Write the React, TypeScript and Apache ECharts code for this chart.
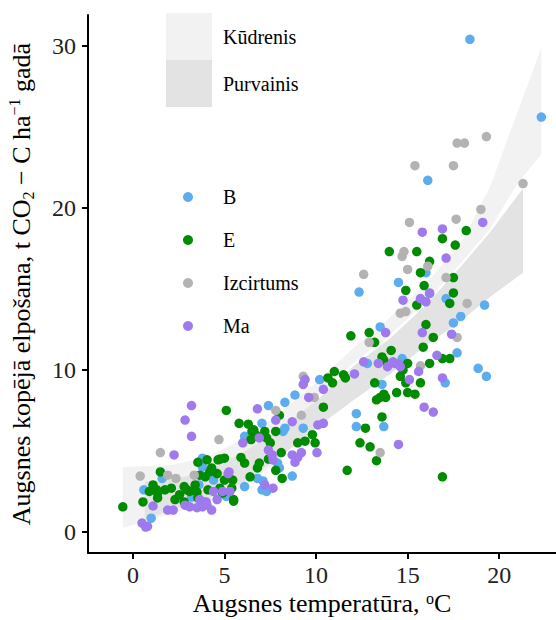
import React, { useEffect, useRef } from 'react';
import * as echarts from 'echarts';

// ---------- DATA ----------
const xTicks = [0, 5, 10, 15, 20];
const yTicks = [0, 10, 20, 30];

const bandNames = ['Kūdrenis', 'Purvainis'];
const groupNames = ['B', 'E', 'Izcirtums', 'Ma'];

// Kūdrenis confidence band (x, lower, upper)
const kudrenisX = [-0.55, 2, 4, 6, 8, 10, 12, 14, 16, 18, 19.5, 21, 22.3];
const kudrenisLow = [0.25, 1.1, 1.8, 2.8, 4.4, 8.3, 10.4, 12.1, 14.2, 16.7, 18.7, 21.5, 23.3];
const kudrenisHigh = [4.0, 4.1, 4.6, 5.7, 7.3, 9.2, 11.3, 13.2, 15.3, 18.0, 21.3, 25.9, 29.9];

// Purvainis confidence band (x, lower, upper)
const purvainisX = [0.65, 2, 4, 6, 8, 10, 12, 14, 16, 18, 19.5, 21.3];
const purvainisLow = [0.75, 1.3, 2.0, 3.0, 4.6, 6.4, 8.1, 9.7, 11.5, 13.1, 14.5, 16.0];
const purvainisHigh = [3.1, 3.2, 3.7, 4.9, 6.3, 8.1, 10.2, 11.9, 14.0, 16.5, 18.5, 21.2];

const pointsB: number[][] = [
  [18.4, 30.4], [22.3, 25.6], [16.1, 21.7], [16.0, 16.0], [14.5, 15.4], [12.35, 14.8], [17.1, 14.4],
  [19.2, 14.0], [16.2, 14.7], [17.9, 13.3], [17.5, 12.9], [17.7, 11.05], [18.85, 10.1], [19.3, 9.6],
  [17.05, 9.2], [13.6, 9.1], [13.5, 12.65], [14.7, 10.7], [12.8, 10.4], [12.2, 7.3], [12.2, 6.5],
  [13.7, 6.5], [10.2, 9.4], [9.3, 6.4], [8.85, 8.45], [8.3, 8.0], [7.4, 7.8], [7.05, 6.7], [8.3, 6.4],
  [8.2, 6.2], [6.1, 5.9], [7.9, 4.25], [8.0, 3.95], [8.7, 3.45], [6.8, 3.3], [7.1, 3.15], [7.05, 2.6],
  [7.3, 2.5], [6.1, 2.8], [5.0, 2.3], [1.6, 3.3], [0.6, 2.6], [1.0, 0.85], [3.8, 4.55], [3.8, 4.0],
  [3.4, 2.45], [3.9, 1.85], [3.2, 2.15], [3.6, 2.9], [4.4, 3.2], [5.1, 2.2],
];

const pointsE: number[][] = [
  [18.2, 18.6], [16.9, 18.1], [17.6, 17.7], [14.0, 17.3], [15.5, 17.3], [16.2, 16.7], [15.7, 16.0],
  [17.5, 15.7], [15.9, 15.2], [14.9, 14.9], [17.5, 14.75], [15.5, 14.0], [17.3, 14.1], [16.0, 12.8],
  [16.4, 12.0], [15.85, 11.4], [14.1, 11.2], [16.9, 10.7], [17.3, 10.7], [16.2, 10.4], [15.0, 10.4],
  [14.75, 10.0], [14.6, 9.6], [14.9, 9.2], [15.7, 9.2], [13.6, 10.8], [13.7, 10.6], [13.7, 8.5],
  [14.4, 8.6], [15.0, 8.6], [15.4, 8.5], [16.9, 3.4], [12.9, 12.3], [13.2, 11.7], [11.9, 12.1],
  [13.2, 9.2], [13.3, 8.15], [13.5, 8.3], [13.8, 8.3], [12.7, 6.4], [13.6, 7.1], [12.4, 5.5],
  [12.95, 5.25], [13.3, 4.4], [11.7, 3.8], [10.65, 9.5], [11.0, 9.9], [11.5, 9.7], [11.6, 9.5],
  [10.9, 9.2], [10.4, 7.7], [9.8, 6.0], [9.95, 5.5], [9.4, 5.6], [9.0, 5.5], [5.1, 7.5], [8.0, 7.2],
  [5.8, 6.7], [7.8, 6.2], [7.2, 6.2], [7.3, 5.8], [7.5, 5.5], [6.5, 6.2], [6.7, 6.0], [7.4, 4.5],
  [6.8, 3.95], [7.8, 3.8], [5.0, 4.55], [4.75, 4.5], [5.9, 4.6], [6.1, 4.25], [8.15, 3.3], [6.4, 3.4],
  [4.75, 2.7], [4.9, 2.4], [5.5, 2.0], [6.3, 6.65], [1.5, 3.7], [1.1, 2.9], [1.3, 2.6], [0.9, 2.5],
  [0.55, 1.85], [-0.55, 1.55], [1.35, 2.4], [1.35, 2.1], [1.75, 2.6], [2.1, 2.7], [2.55, 2.3],
  [2.8, 2.8], [3.1, 2.5], [3.4, 2.9], [2.3, 2.0], [2.8, 1.85], [3.55, 2.1], [3.55, 4.3], [4.05, 4.45],
  [4.3, 3.95], [4.65, 4.45], [3.65, 3.5], [3.95, 3.4], [4.1, 2.6], [4.2, 3.7], [4.6, 3.6], [5.45, 3.2],
  [5.0, 3.2], [5.4, 2.7], [5.5, 1.9], [2.95, 2.6], [3.5, 2.45], [6.6, 6.3], [6.8, 5.9], [6.45, 5.7],
  [6.9, 4.25], [8.1, 4.9],
];

const pointsIzcirtums: number[][] = [
  [19.3, 24.4], [17.7, 24.0], [18.1, 24.0], [15.4, 22.6], [17.5, 22.6], [21.3, 21.5], [19.0, 19.9],
  [15.1, 19.1], [17.65, 19.3], [14.8, 17.3], [14.7, 17.0], [16.1, 16.4], [15.0, 16.2], [12.6, 15.9],
  [17.1, 15.7], [18.25, 14.1], [14.6, 13.5], [14.9, 13.6], [17.7, 12.0], [15.7, 10.25], [12.9, 11.7],
  [13.5, 4.9], [9.9, 8.3], [9.2, 7.2], [9.3, 9.6], [7.8, 7.5], [4.7, 5.7], [1.5, 4.9], [0.4, 3.45],
  [2.35, 3.3], [1.9, 3.5], [3.35, 3.5],
];

const pointsMa: number[][] = [
  [19.1, 19.1], [15.8, 18.5], [16.9, 18.7], [17.1, 16.9], [16.2, 14.75], [15.7, 14.4], [16.0, 14.2],
  [14.75, 14.3], [15.8, 12.3], [17.4, 12.2], [16.6, 10.9], [13.9, 10.2], [14.3, 10.4], [14.6, 10.2],
  [14.2, 10.5], [14.5, 10.35], [15.6, 9.9], [16.9, 9.5], [13.8, 12.3], [15.9, 7.7], [16.4, 7.4],
  [12.6, 10.5], [13.4, 10.4], [15.1, 9.4], [14.5, 5.4], [9.4, 9.4], [9.3, 9.1], [12.1, 9.75],
  [10.4, 8.8], [9.6, 8.3], [10.1, 6.6], [10.4, 6.7], [10.05, 4.9], [9.2, 4.9], [6.8, 7.6], [7.8, 6.9],
  [8.7, 6.8], [6.9, 5.8], [6.0, 5.5], [8.7, 4.75], [9.0, 4.6], [7.4, 5.05], [7.6, 4.75], [7.65, 4.45],
  [5.2, 3.6], [7.2, 2.9], [7.65, 2.7], [5.3, 2.5], [3.2, 7.8], [2.85, 6.9], [3.2, 5.9], [2.25, 4.75],
  [1.1, 1.6], [0.5, 0.55], [0.7, 0.3], [0.8, 0.35], [2.85, 1.65], [3.1, 1.55], [3.5, 1.5], [3.8, 1.55],
  [4.05, 1.65], [4.3, 1.35], [4.6, 2.0], [1.9, 1.35], [2.2, 1.35], [5.25, 3.7], [4.4, 2.5], [4.9, 2.5],
  [3.65, 2.0], [4.0, 1.85], [8.85, 4.3],
];

// ---------- STYLES ----------
const FONT = 'Liberation Serif, Times New Roman, serif';
const BAND_COLORS = ['#f2f2f2', '#e3e3e3'];
const POINT_COLORS = ['#5CACEE', '#008B00', '#B3B3B3', '#9F79EE'];

function bandSeries(name: string, xs: number[], lo: number[], hi: number[], color: string, z: number) {
  return {
    type: 'custom',
    name,
    silent: true,
    z,
    itemStyle: { color },
    encode: { x: 0, y: 1 },
    data: [[xs[0], lo[0]]],
    renderItem: (_params: any, api: any) => {
      const pts: number[][] = [];
      for (let i = 0; i < xs.length; i++) pts.push(api.coord([xs[i], hi[i]]));
      for (let i = xs.length - 1; i >= 0; i--) pts.push(api.coord([xs[i], lo[i]]));
      return { type: 'polygon', shape: { points: pts }, style: { fill: color, stroke: 'none' } };
    },
  };
}

export default function App() {
  const ref = useRef<HTMLDivElement>(null);
  useEffect(() => {
    if (!ref.current) return;
    const chart = echarts.init(ref.current, undefined, { renderer: 'svg' });
    const groups = [pointsB, pointsE, pointsIzcirtums, pointsMa];
    const option: any = {
      animation: false,
      backgroundColor: '#ffffff',
      textStyle: { fontFamily: FONT },
      grid: { left: 88, right: 0, top: 15, bottom: 67, containLabel: false, outerBoundsMode: 'none' },
      legend: [
        {
          data: bandNames.map((n, i) => ({ name: n, icon: 'rect', itemStyle: { color: BAND_COLORS[i] } })),
          orient: 'vertical',
          left: 161,
          top: 8,
          itemWidth: 46,
          itemHeight: 47,
          itemGap: 0,
          selectedMode: false,
          textStyle: { fontFamily: FONT, fontSize: 20, color: '#000', padding: [0, 0, 0, 6] },
        },
        {
          data: groupNames.map((n, i) => ({ name: n, icon: 'circle', itemStyle: { color: POINT_COLORS[i] } })),
          orient: 'vertical',
          left: 178,
          top: 182,
          itemWidth: 10,
          itemHeight: 24,
          itemGap: 23,
          selectedMode: false,
          textStyle: { fontFamily: FONT, fontSize: 20, color: '#000', padding: [0, 0, 0, 25] },
        },
      ],
      xAxis: {
        type: 'value',
        min: -2.45,
        max: 23.1,
        splitLine: { show: false },
        axisLine: { onZero: false, lineStyle: { color: '#000', width: 2 } },
        axisTick: { length: 6, lineStyle: { color: '#000', width: 2 }, customValues: xTicks },
        axisLabel: {
          customValues: xTicks, fontSize: 24, lineHeight: 24, color: '#222', margin: 10, fontFamily: FONT,
        },
        name: '{a|Augsnes temperatūra, }{p|o}{a|C}',
        nameLocation: 'middle',
        nameGap: 37,
        nameMoveOverlap: false,
        nameTextStyle: {
          rich: {
            a: { fontSize: 26, fontFamily: FONT, color: '#000', lineHeight: 26 },
            p: { fontSize: 16, fontFamily: FONT, color: '#000', verticalAlign: 'top', lineHeight: 16 },
          },
        },
      },
      yAxis: {
        type: 'value',
        min: -1.3,
        max: 31.9,
        splitLine: { show: false },
        axisLine: { onZero: false, lineStyle: { color: '#000', width: 2 } },
        axisTick: { length: 6, lineStyle: { color: '#000', width: 2 }, customValues: yTicks },
        axisLabel: {
          customValues: yTicks, fontSize: 24, lineHeight: 24, color: '#222', margin: 12, fontFamily: FONT,
        },
        name: '{a|Augsnes kopējā elpošana, t CO}{s|2}{a| − C ha}{p|−1}{a| gadā}',
        nameLocation: 'middle',
        nameGap: 52,
        nameMoveOverlap: false,
        nameTextStyle: {
          rich: {
            a: { fontSize: 26, fontFamily: FONT, color: '#000', lineHeight: 30 },
            s: { fontSize: 16, fontFamily: FONT, color: '#000', verticalAlign: 'bottom', lineHeight: 16 },
            p: { fontSize: 16, fontFamily: FONT, color: '#000', verticalAlign: 'top', lineHeight: 16 },
          },
        },
      },
      series: [
        bandSeries(bandNames[0], kudrenisX, kudrenisLow, kudrenisHigh, BAND_COLORS[0], 1),
        bandSeries(bandNames[1], purvainisX, purvainisLow, purvainisHigh, BAND_COLORS[1], 1),
        ...groupNames.map((n, i) => ({
          type: 'scatter',
          name: n,
          z: 3,
          symbol: 'circle',
          symbolSize: 9.5,
          itemStyle: { color: POINT_COLORS[i], opacity: 1 },
          data: groups[i],
        })),
      ],
    };
    chart.setOption(option);
    return () => chart.dispose();
  }, []);
  return <div ref={ref} style={{ position: 'absolute', left: 0, top: 0, width: 556, height: 620 }} />;
}
